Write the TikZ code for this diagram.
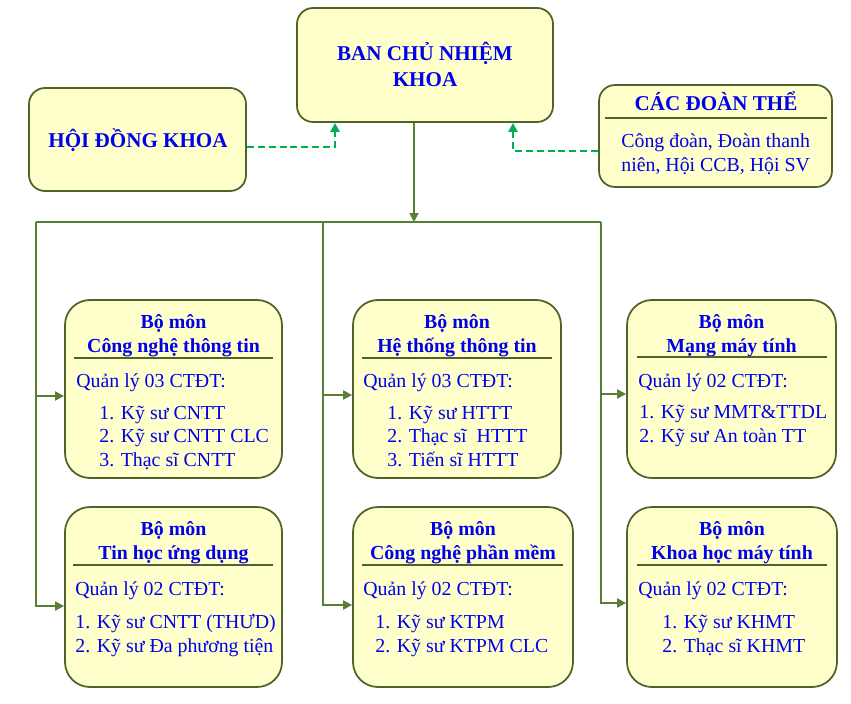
\documentclass[tikz,border=0pt]{standalone}
\usepackage{fontspec}
\setmainfont{Liberation Serif}
\usetikzlibrary{arrows.meta,positioning,fit}
\definecolor{paleyellow}{RGB}{255,255,204}
\definecolor{olivedark}{RGB}{79,98,40}
\definecolor{busgreen}{RGB}{88,128,52}
\definecolor{dashgreen}{RGB}{0,176,80}
\definecolor{textblue}{RGB}{0,0,235}
\tikzset{
  unit/.style={rectangle, rounded corners=0.5cm, draw=olivedark, line width=1pt, fill=paleyellow, inner sep=0pt},
  topunit/.style={unit, rounded corners=0.32cm},
  headtext/.style={font=\fontsize{12}{14.7}\selectfont\bfseries, text=textblue, align=center, inner sep=0pt},
  nametext/.style={font=\fontsize{11.3}{13.6}\selectfont\bfseries, text=textblue, align=center, inner sep=0pt},
  bodytext/.style={font=\fontsize{11.3}{13.2}\selectfont, text=textblue, align=left, inner sep=0pt},
  sepline/.style={olivedark, line width=1.3pt},
  bus/.style={busgreen, line width=1.1pt},
  arrow/.style={bus, -{Triangle[length=1.8mm, width=1.8mm]}},
  dasharrow/.style={dashgreen, line width=1.4pt, dash pattern=on 4pt off 2.2pt, -{Triangle[length=1.8mm, width=1.8mm]}},
}
\begin{document}
\begin{tikzpicture}[x=0.02cm, y=-0.02cm]
\useasboundingbox (0,0) rectangle (851,703);

% ---- top row (multi-line texts sit on the baseline of their last line) ----
\node[topunit, fit={(297,8) (553,122)}] (bcn) {};
\node[headtext, anchor=base] (bcntext) at (425,86) {BAN CHỦ NHIỆM\\KHOA};
\node[topunit, fit={(29,88) (246,191)}] (hdk) {};
\node[headtext, anchor=base] (hdktext) at (138,147) {HỘI ĐỒNG KHOA};
\node[topunit, fit={(599,85) (832,187)}] (cdt) {};
\node[headtext, anchor=base] (cdttext) at (716,110) {CÁC ĐOÀN THỂ};
\draw[sepline] (605,118) -- (827,118);
\node[bodytext, anchor=base west] (cdtbody) at (621,171) {Công đoàn, Đoàn thanh\\niên, Hội CCB, Hội SV};

% ---- dashed links into the board ----
\draw[dasharrow] (hdk.east |- 0,147) -| (bcn.south -| 335,0);
\draw[dasharrow] (cdt.west |- 0,151) -| (bcn.south -| 513,0);

% ---- bus ----
\coordinate (hub) at (414,222);
\coordinate (busl) at (36,222);
\coordinate (busm) at (323,222);
\coordinate (busr) at (601,222);
\draw[arrow] (bcn.south -| hub) -- (hub);
\draw[bus] (busl) -- (busr);

% ---- row 1 ----
\node[unit, fit={(65,300) (282,478)}] (cntt) {};
\node[nametext, anchor=base] (cnttname) at (173.5,352) {Bộ môn\\Công nghệ thông tin};
\draw[sepline] (74,358) -- (273,358);
\node[bodytext, anchor=base west] (cnttplan) at (76,387) {Quản lý 03 CTĐT:};
\node[bodytext, anchor=base west] (cnttlist) at (99,466) {1. Kỹ sư CNTT\\2. Kỹ sư CNTT CLC\\3. Thạc sĩ CNTT};

\node[unit, fit={(353,300) (561,478)}] (httt) {};
\node[nametext, anchor=base] (htttname) at (457,352) {Bộ môn\\Hệ thống thông tin};
\draw[sepline] (362,358) -- (552,358);
\node[bodytext, anchor=base west] (htttplan) at (363,387) {Quản lý 03 CTĐT:};
\node[bodytext, anchor=base west] (htttlist) at (387,466) {1. Kỹ sư HTTT\\2. Thạc sĩ\ \ HTTT\\3. Tiến sĩ HTTT};

\node[unit, fit={(627,300) (836,478)}] (mmt) {};
\node[nametext, anchor=base] (mmtname) at (731.5,352) {Bộ môn\\Mạng máy tính};
\draw[sepline] (637,357) -- (827,357);
\node[bodytext, anchor=base west] (mmtplan) at (638,387) {Quản lý 02 CTĐT:};
\node[bodytext, anchor=base west] (mmtlist) at (639,442) {1. Kỹ sư MMT\&TTDL\\2. Kỹ sư An toàn TT};

% ---- row 2 ----
\node[unit, fit={(65,507) (282,687)}] (thud) {};
\node[nametext, anchor=base] (thudname) at (173.5,559) {Bộ môn\\Tin học ứng dụng};
\draw[sepline] (73,565) -- (273,565);
\node[bodytext, anchor=base west] (thudplan) at (75,595) {Quản lý 02 CTĐT:};
\node[bodytext, anchor=base west] (thudlist) at (75,652) {1. Kỹ sư CNTT (THƯD)\\2. Kỹ sư Đa phương tiện};

\node[unit, fit={(353,507) (573,687)}] (cnpm) {};
\node[nametext, anchor=base] (cnpmname) at (463,559) {Bộ môn\\Công nghệ phần mềm};
\draw[sepline] (362,565) -- (563,565);
\node[bodytext, anchor=base west] (cnpmplan) at (363,595) {Quản lý 02 CTĐT:};
\node[bodytext, anchor=base west] (cnpmlist) at (375,652) {1. Kỹ sư KTPM\\2. Kỹ sư KTPM CLC};

\node[unit, fit={(627,507) (837,687)}] (khmt) {};
\node[nametext, anchor=base] (khmtname) at (732,559) {Bộ môn\\Khoa học máy tính};
\draw[sepline] (637,565) -- (827,565);
\node[bodytext, anchor=base west] (khmtplan) at (638,595) {Quản lý 02 CTĐT:};
\node[bodytext, anchor=base west] (khmtlist) at (662,652) {1. Kỹ sư KHMT\\2. Thạc sĩ KHMT};

% ---- branches ----
\draw[arrow] (busl) |- (cntt.west |- 0,396);
\draw[arrow] (busl) |- (thud.west |- 0,606);
\draw[arrow] (busm) |- (httt.west |- 0,395);
\draw[arrow] (busm) |- (cnpm.west |- 0,605);
\draw[arrow] (busr) |- (mmt.west |- 0,394);
\draw[arrow] (busr) |- (khmt.west |- 0,603);
\end{tikzpicture}
\end{document}
